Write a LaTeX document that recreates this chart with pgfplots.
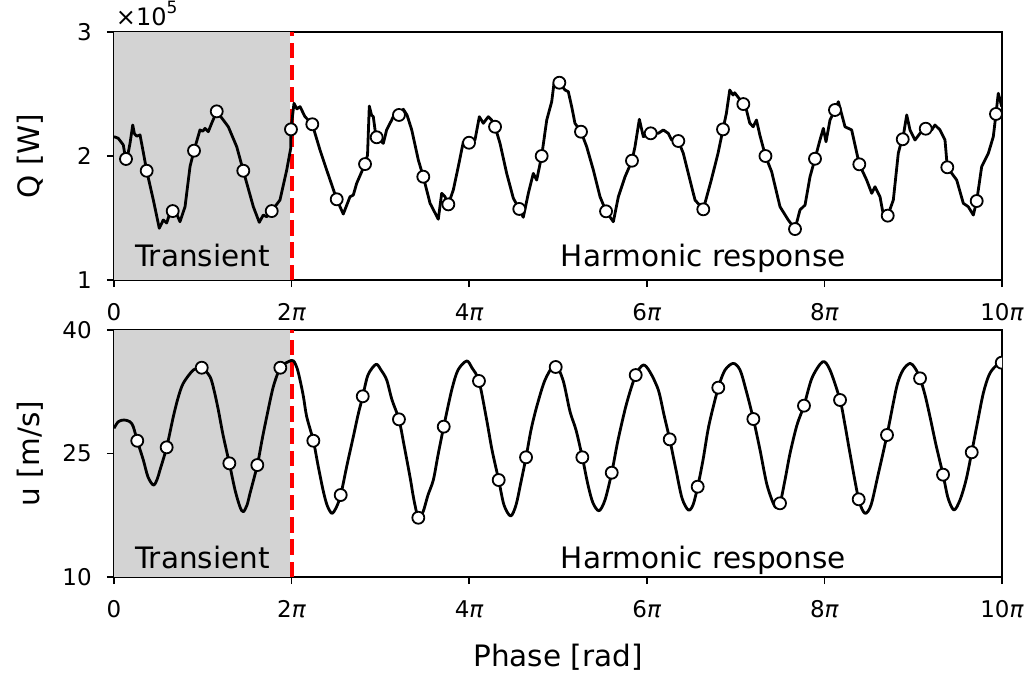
\documentclass[border=0pt]{standalone}
\usepackage{fontspec}
\setmainfont{DejaVu Sans}
\usepackage{pgfplots}
\usepackage{pgfplotstable}
\pgfplotsset{compat=1.18}
\definecolor{shade}{HTML}{D3D3D3}

\pgfplotstableread{
x y
0.000 2.156
0.048 2.143
0.105 2.089
0.128 1.990
0.135 1.976
0.150 1.990
0.180 2.100
0.211 2.250
0.230 2.180
0.256 2.160
0.293 2.170
0.330 2.030
0.368 1.881
0.443 1.645
0.510 1.417
0.555 1.484
0.593 1.460
0.630 1.540
0.661 1.556
0.706 1.532
0.743 1.470
0.800 1.591
0.856 1.914
0.901 2.043
0.968 2.210
1.000 2.200
1.025 2.223
1.062 2.196
1.100 2.264
1.157 2.360
1.231 2.290
1.287 2.236
1.382 2.075
1.456 1.881
1.569 1.591
1.636 1.465
1.681 1.524
1.720 1.510
1.776 1.556
1.869 1.645
1.945 1.887
1.990 2.062
1.993 2.215
2.027 2.425
2.060 2.380
2.095 2.398
2.151 2.317
2.233 2.256
2.320 2.048
2.395 1.887
2.508 1.651
2.582 1.532
2.658 1.672
2.695 1.685
2.733 1.780
2.827 1.935
2.855 2.008
2.875 2.403
2.900 2.330
2.920 2.317
2.950 2.156
2.990 2.130
3.033 2.102
3.070 2.210
3.127 2.290
3.160 2.340
3.209 2.331
3.258 2.377
3.300 2.330
3.353 2.210
3.427 1.968
3.483 1.833
3.559 1.619
3.652 1.490
3.690 1.699
3.727 1.672
3.765 1.610
3.821 1.726
3.877 1.914
3.934 2.115
3.998 2.107
4.065 2.129
4.114 2.317
4.159 2.264
4.215 2.317
4.253 2.290
4.291 2.236
4.347 2.102
4.422 1.860
4.497 1.659
4.564 1.573
4.609 1.506
4.666 1.699
4.722 1.860
4.760 1.806
4.816 2.000
4.873 2.290
4.929 2.438
4.955 2.586
5.015 2.591
5.079 2.532
5.116 2.519
5.154 2.398
5.191 2.264
5.259 2.196
5.323 2.075
5.398 1.887
5.473 1.672
5.541 1.554
5.623 1.470
5.680 1.672
5.755 1.833
5.833 1.962
5.867 2.075
5.916 2.296
5.961 2.156
5.998 2.169
6.044 2.183
6.129 2.183
6.186 2.210
6.242 2.183
6.280 2.129
6.355 2.121
6.411 2.022
6.486 1.806
6.543 1.645
6.636 1.570
6.726 1.806
6.802 2.022
6.858 2.215
6.896 2.344
6.934 2.532
6.971 2.492
6.990 2.510
7.087 2.419
7.122 2.371
7.160 2.264
7.198 2.236
7.235 2.290
7.273 2.169
7.336 2.000
7.406 1.873
7.500 1.591
7.593 1.484
7.669 1.411
7.725 1.565
7.782 1.605
7.838 1.833
7.894 1.978
7.950 2.129
7.988 2.223
8.018 2.115
8.063 2.290
8.119 2.371
8.157 2.438
8.232 2.236
8.307 2.210
8.393 1.933
8.476 1.806
8.533 1.699
8.570 1.752
8.626 1.672
8.657 1.551
8.713 1.519
8.776 1.645
8.832 2.022
8.851 2.075
8.882 2.135
8.927 2.331
8.964 2.210
9.020 2.129
9.077 2.183
9.141 2.220
9.208 2.210
9.245 2.250
9.302 2.210
9.358 2.129
9.384 1.909
9.490 1.806
9.564 1.619
9.620 1.591
9.677 1.524
9.715 1.637
9.771 1.914
9.846 2.022
9.902 2.156
9.932 2.339
9.958 2.506
9.997 2.398
}\Qline

\pgfplotstableread{
x y
0.135 1.976
0.368 1.881
0.661 1.556
0.901 2.043
1.157 2.360
1.456 1.881
1.776 1.556
1.993 2.215
2.233 2.256
2.508 1.651
2.827 1.935
2.958 2.151
3.209 2.331
3.483 1.833
3.765 1.610
3.998 2.107
4.291 2.236
4.564 1.573
4.816 2.000
5.015 2.591
5.259 2.196
5.541 1.554
5.833 1.962
6.044 2.183
6.355 2.121
6.636 1.570
6.858 2.215
7.087 2.419
7.336 2.000
7.669 1.411
7.894 1.978
8.119 2.371
8.393 1.933
8.713 1.519
8.882 2.135
9.141 2.220
9.384 1.909
9.715 1.637
9.932 2.339
}\Qmarks

\pgfplotstableread{
x y
0.000 28.06
0.048 28.86
0.113 29.07
0.180 28.86
0.217 28.26
0.262 26.55
0.330 24.21
0.383 22.15
0.443 21.17
0.484 21.80
0.518 23.00
0.593 25.75
0.668 29.47
0.721 31.74
0.780 33.53
0.893 35.14
0.988 35.42
1.081 34.33
1.126 32.71
1.175 30.28
1.228 27.25
1.299 23.81
1.363 20.57
1.419 18.50
1.456 17.93
1.498 18.74
1.532 20.17
1.614 23.60
1.667 26.64
1.720 29.47
1.794 33.11
1.873 35.42
1.963 36.15
2.019 36.27
2.061 35.39
2.095 33.93
2.134 31.86
2.170 29.47
2.245 26.55
2.297 23.60
2.354 20.57
2.399 18.74
2.452 17.74
2.500 18.38
2.553 19.96
2.624 23.60
2.695 27.04
2.748 29.68
2.801 31.95
2.860 34.53
2.950 35.83
3.007 35.14
3.071 33.93
3.131 31.50
3.209 29.15
3.266 26.03
3.333 22.18
3.378 19.35
3.427 17.20
3.480 17.90
3.536 19.96
3.596 21.78
3.649 24.82
3.713 28.26
3.803 32.71
3.874 35.14
3.972 36.24
4.032 35.39
4.110 33.81
4.197 29.07
4.257 25.43
4.332 21.78
4.392 18.74
4.467 17.41
4.527 18.74
4.583 21.54
4.640 24.54
4.696 27.85
4.760 30.68
4.854 33.93
4.966 35.75
5.056 33.93
5.135 30.10
5.203 27.85
5.274 24.54
5.338 21.17
5.394 18.99
5.462 18.05
5.529 19.35
5.605 22.67
5.676 26.64
5.773 31.10
5.875 34.53
5.961 35.75
6.036 34.90
6.130 32.71
6.194 29.68
6.258 26.72
6.329 23.00
6.396 19.60
6.467 18.14
6.520 18.74
6.573 20.97
6.633 24.21
6.700 28.46
6.805 33.00
6.881 35.14
6.974 35.95
7.050 35.14
7.117 32.71
7.200 29.19
7.275 25.43
7.354 21.17
7.444 18.54
7.500 18.95
7.556 21.78
7.613 25.02
7.691 28.46
7.770 30.81
7.860 34.17
7.981 36.15
8.063 35.14
8.176 31.50
8.232 28.46
8.288 25.02
8.386 19.44
8.457 17.74
8.525 18.74
8.604 22.39
8.705 27.25
8.814 33.11
8.885 35.14
8.964 35.95
9.020 35.39
9.077 34.13
9.133 32.11
9.189 29.47
9.257 26.03
9.336 22.43
9.392 19.60
9.459 18.14
9.527 19.35
9.595 21.78
9.659 25.15
9.718 28.46
9.789 32.31
9.854 34.53
9.921 35.54
9.997 36.03
}\Uline

\pgfplotstableread{
x y
0.262 26.55
0.593 25.75
0.988 35.42
1.299 23.81
1.614 23.60
1.873 35.42
2.245 26.55
2.553 19.96
2.801 31.95
3.209 29.15
3.427 17.20
3.713 28.26
4.110 33.81
4.332 21.78
4.640 24.54
4.974 35.51
5.274 24.54
5.605 22.67
5.875 34.53
6.258 26.72
6.573 20.97
6.805 33.00
7.200 29.19
7.500 18.95
7.770 30.81
8.176 31.50
8.386 19.44
8.705 27.25
9.077 34.13
9.336 22.43
9.659 25.15
9.997 36.03
}\Umarks

\pgfplotsset{
  panel/.style={
    scale only axis,
    width=444pt,
    xmin=0, xmax=10,
    clip mode=individual,
    axis line style={line width=0.85pt},
    tick style={line width=0.85pt, black},
    tick align=outside,
    major tick length=3.6pt,
    xtick pos=bottom, ytick pos=left,
    xtick={0,2,4,6,8,10},
    xticklabels={0,2\textit{π},4\textit{π},6\textit{π},8\textit{π},10\textit{π}},
    tick label style={font=\fontsize{11.5}{13}\selectfont},
    xticklabel shift=4.5pt,
    yticklabel shift=4pt,
    label style={font=\fontsize{14.75}{17}\selectfont},
    ylabel style={at={(axis description cs:-0.0788,0.5)}, anchor=south, inner sep=0pt},
    clip marker paths=true,
  },
  curve/.style={black, line width=1.4pt, line join=round, no marks},
  dots/.style={only marks, mark=*, mark size=3pt, mark options={fill=white, draw=black, line width=0.9pt}},
}

\begin{document}
\begin{tikzpicture}
\path[use as bounding box] (0,0) rectangle (516pt,338.5pt);

\begin{axis}[panel,
  at={(57pt,198.5pt)}, anchor=south west,
  height=124pt,
  ymin=1, ymax=3,
  ytick={1,2,3}, yticklabels={1,2,3},
  ylabel={Q [W]},
]
\addplot[draw=none, fill=shade] coordinates {(0,3) (2,3)} \closedcycle;
\addplot[white, line width=1.2pt, forget plot] coordinates {(2,1) (2,3)};
\addplot[red, line width=2.1pt, dash pattern=on 7.75pt off 3.35pt] coordinates {(2,1) (2,3)};
\addplot[curve] table[x=x,y=y] {\Qline};
\addplot[dots] table[x=x,y=y] {\Qmarks};
\node[anchor=base, font=\fontsize{14.75}{17}\selectfont, inner sep=0pt] at (axis cs:0.997,1.105) {Transient};
\node[anchor=base, font=\fontsize{14.75}{17}\selectfont, inner sep=0pt] at (axis cs:6.638,1.105) {Harmonic response};
\node[anchor=base west, inner sep=0pt, font=\fontsize{12}{14}\selectfont] at (axis description cs:0,1) [yshift=3.5pt, xshift=0.8pt] {×10\raisebox{0.5em}{\fontsize{8.5}{10}\selectfont 5}};
\end{axis}

\begin{axis}[panel,
  at={(57pt,50pt)}, anchor=south west,
  height=123.5pt,
  ymin=10, ymax=40,
  ytick={10,25,40}, yticklabels={10,25,40},
  ylabel={u [m/s]},
  xlabel={Phase [rad]},
  xlabel style={at={(axis description cs:0.5,-0.3603)}, anchor=base, inner sep=0pt},
]
\addplot[draw=none, fill=shade] coordinates {(0,40) (2,40)} \closedcycle;
\addplot[white, line width=1.2pt] coordinates {(2,10) (2,40)};
\addplot[red, line width=2.1pt, dash pattern=on 7.75pt off 3.35pt] coordinates {(2,10) (2,40)};
\addplot[curve, smooth, tension=0.5] table[x=x,y=y] {\Uline};
\addplot[dots] table[x=x,y=y] {\Umarks};
\node[anchor=base, font=\fontsize{14.75}{17}\selectfont, inner sep=0pt] at (axis cs:0.997,11.06) {Transient};
\node[anchor=base, font=\fontsize{14.75}{17}\selectfont, inner sep=0pt] at (axis cs:6.638,11.06) {Harmonic response};
\end{axis}
\end{tikzpicture}
\end{document}
